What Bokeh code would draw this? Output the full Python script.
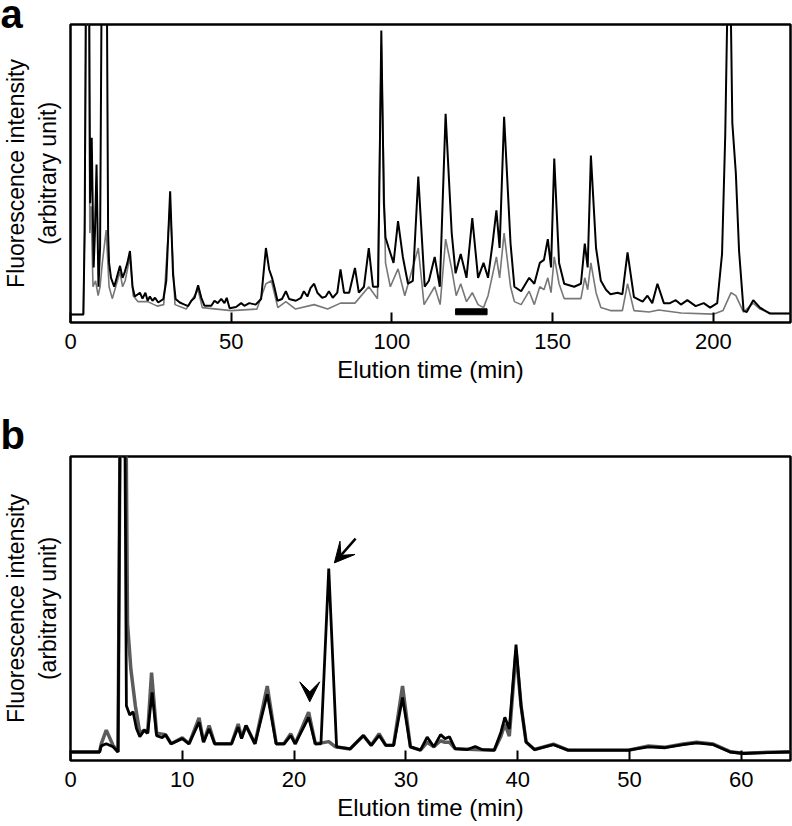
from bokeh.plotting import figure
from bokeh.models import Range1d, FixedTicker, Arrow, VeeHead, Title
from bokeh.layouts import column
from bokeh.embed import file_html
from bokeh.resources import INLINE

FONT = "Liberation Sans"

# ---------------- Panel a data ----------------
a_ticks = [0, 50, 100, 150, 200]
a_black_t = [0, 4.0, 4.4, 4.8, 5.8, 6.1, 6.6, 7.2, 7.6, 8.1,
             8.7, 9.2, 9.7, 10.1, 11.3, 11.7, 12.0, 12.6, 13.6, 15.4,
             16.2, 16.9, 17.7, 18.5, 19.3, 20.0, 21.6, 22.4, 23.3, 24.0,
             24.7, 25.5, 26.3, 27.3, 28.9, 29.8, 31.0, 31.9, 32.7, 34.0,
             35.5, 36.6, 37.6, 38.6, 39.7, 40.7, 41.7, 43.8, 44.8, 45.8,
             46.9, 47.9, 48.6, 49.5, 51.5, 53.1, 54.1, 55.6, 57.6, 59.3,
             60.8, 61.8, 62.7, 63.4, 64.4, 65.8, 67.0, 68.0, 70.1, 71.7,
             72.6, 73.7, 74.7, 75.8, 76.8, 78.3, 79.4, 80.4, 81.6, 83.0,
             84.0, 85.1, 86.7, 88.5, 89.7, 91.3, 92.8, 94.1, 95.7, 96.7,
             97.5, 98.0, 99.0, 100.5, 101.9, 103.4, 105.0, 106.5, 108.2, 110.2,
             111.5, 113.3, 114.9, 116.7, 118.6, 119.8, 121.4, 123.2, 125.0, 126.8,
             128.5, 129.9, 131.3, 132.5, 133.5, 134.9, 136.9, 138.1, 140.2, 142.7,
             144.3, 146.0, 147.3, 148.5, 149.5, 150.5, 152.0, 153.6, 156.7, 158.8,
             160.0, 160.9, 161.9, 163.5, 165.0, 166.6, 168.0, 170.2, 171.7, 173.3,
             175.3, 178.0, 179.5, 181.0, 182.6, 184.6, 186.5, 188.3, 189.9, 191.9,
             194.5, 197.0, 199.0, 201.2, 202.7, 203.7, 204.5, 205.3, 205.9, 207.0,
             208.0, 209.4, 210.4, 212.4, 214.5, 217.6, 224.0]
a_black_v = [2.7, 2.7, 30, 115, 115, 40, 62, 18.5, 30, 53,
             12, 25, 115, 115, 115, 30, 20, 15, 12, 19,
             15, 17, 20, 24, 12, 8.7, 10, 8, 10, 7.3,
             8.7, 7.3, 8.3, 6.7, 7.9, 14, 44, 16, 7.9, 6.7,
             6, 5.5, 7.3, 8.3, 12.5, 8.3, 5.6, 5.6, 7.3, 6.5,
             7.9, 6.5, 8.3, 4.8, 5.2, 6.5, 5.6, 6.5, 6, 7.9,
             25, 17.8, 15, 12, 7.3, 7.9, 10.5, 7.9, 7.3, 8.3,
             10.5, 8.7, 11.6, 13, 10, 8.3, 8.7, 10.5, 8.3, 10,
             17.8, 10, 10, 18.3, 10, 12, 25, 12, 12, 98,
             40, 28.5, 25, 20, 34, 22, 13, 14, 49, 12,
             14, 22, 12, 70, 30, 16.5, 23, 15, 35, 15,
             20, 15, 26.5, 37.6, 25, 69, 26.5, 12, 10.5, 15,
             13, 20, 21, 28, 18.5, 55, 20, 13, 12, 13,
             26.5, 18.5, 56, 25, 14, 11, 9.5, 10, 9.5, 23.5,
             8.5, 7, 9, 6.5, 13, 6.5, 6.5, 7.5, 6, 7.5,
             5.5, 6.5, 5, 6.5, 23, 63, 115, 115, 67, 50,
             24, 4, 3.5, 7.5, 5, 3, 3]
a_gray_t = [0, 4.0, 4.5, 4.9, 5.7, 6.0, 6.4, 7.0, 7.8, 8.6,
            9.2, 9.9, 11.1, 12.0, 13.0, 15.4, 16.2, 17.0, 18.5, 19.5,
            21.0, 24.0, 27.0, 29.0, 31.0, 32.5, 36.0, 39.7, 41.0, 50.0,
            58.0, 60.8, 62.5, 64.5, 67.0, 70.0, 75.8, 80.0, 84.0, 88.5,
            92.8, 95.5, 96.7, 98.0, 99.5, 101.9, 104.0, 108.2, 110.0, 113.3,
            115.0, 116.7, 118.6, 120.0, 121.4, 123.2, 125.0, 126.8, 128.5, 129.9,
            131.3, 132.5, 133.5, 134.9, 136.9, 138.1, 140.2, 142.7, 144.3, 146.0,
            147.3, 148.5, 149.5, 150.5, 152.0, 153.6, 156.7, 158.8, 160.0, 160.9,
            161.9, 163.5, 165.0, 168.0, 171.7, 173.3, 175.3, 180.0, 183.0, 190.0,
            200.0, 203.0, 205.5, 207.0, 209.4, 212.4, 214.5, 218.0, 224.0]
a_gray_v = [2.7, 2.7, 40, 115, 115, 30, 39, 12, 14, 9,
            12, 20, 31, 12, 8, 17, 12, 14, 22, 9,
            7, 7, 5.5, 6, 40, 6, 4.5, 11, 5, 4,
            4.5, 13, 14, 5, 7, 4.5, 6, 4.5, 6.5, 6.5,
            12, 8, 93, 20, 12, 18, 9, 25, 6, 12,
            6, 28, 18, 9, 13, 7, 10, 6, 5, 9,
            16, 22, 15, 30, 12, 7, 6, 10.5, 6, 12,
            11, 15, 10, 22, 13, 8, 8, 8, 15, 11,
            20, 10, 5, 4, 4, 13, 4, 3.5, 4.2, 3.2,
            2.8, 4, 10, 9, 3.5, 6.5, 4.5, 3, 3]
# marker bar under the traces (time span, intensity span)
a_bar_t = [119.8, 129.6]
a_bar_v = [2.6, 4.6]

# ---------------- Panel b data ----------------
b_ticks = [0, 10, 20, 30, 40, 50, 60]
b_black_t = [0, 2.6, 2.75, 3.2, 3.8, 4.25, 4.45, 4.85, 5.0, 5.3,
             5.6, 5.9, 6.2, 6.6, 6.9, 7.3, 7.7, 8.2, 8.5, 9.0,
             10.0, 10.6, 11.5, 11.9, 12.4, 12.9, 14.4, 15.0, 15.3, 15.7,
             16.5, 17.6, 18.4, 19.1, 19.7, 20.1, 21.3, 21.9, 22.4, 23.1,
             23.8, 25.0, 26.2, 26.9, 27.6, 28.2, 28.9, 29.7, 30.4, 31.3,
             31.9, 32.5, 33.1, 33.5, 33.9, 34.4, 35.5, 36.2, 36.8, 37.9,
             38.5, 38.85, 39.25, 39.85, 40.3, 40.75, 41.5, 43.2, 44.5, 47.2,
             49.9, 51.7, 53.2, 54.8, 56.0, 57.5, 59.0, 60.2, 62.3, 64.4]
b_black_v = [2.8, 2.8, 4.8, 5.5, 4.5, 2.8, 120, 120, 18, 15,
             16, 10.5, 7.8, 10, 9, 22.4, 8.2, 7.5, 8.5, 5.5,
             7.2, 5.5, 12.6, 6.1, 10.4, 5.5, 5.5, 11, 7.2, 11.5,
             5.5, 21.8, 5.5, 5.5, 8.2, 5.5, 14.2, 5.5, 5.5, 63.1,
             4.5, 3.8, 8.2, 5, 8.2, 5, 5, 20.7, 4.5, 3.4,
             7.7, 4.5, 8.5, 7.2, 7.8, 3.9, 3.6, 4.6, 3.6, 3.4,
             9.3, 14.2, 10.4, 38.1, 18, 6.1, 3.6, 5.2, 3.4, 3.4,
             3.4, 4.5, 4.2, 5.2, 5.8, 5.2, 2.8, 2.3, 2.6, 2.8]
b_gray_t = [0, 2.6, 2.75, 3.2, 3.8, 4.25, 4.45, 4.95, 5.1, 5.4,
            5.8, 6.2, 6.6, 6.9, 7.25, 7.7, 8.5, 9.0, 10.0, 10.6,
            11.5, 11.9, 12.4, 12.9, 14.4, 15.0, 15.3, 15.7, 16.5, 17.6,
            18.4, 19.1, 19.7, 20.1, 21.3, 21.9, 22.5, 23.1, 23.7, 25.0,
            26.2, 26.9, 27.6, 28.2, 28.9, 29.7, 30.4, 31.3, 31.9, 32.5,
            33.1, 33.5, 33.9, 34.4, 37.9, 38.5, 38.85, 39.25, 39.85, 40.3,
            40.75, 41.5, 43.2, 44.5, 49.9, 51.7, 53.2, 54.8, 56.0, 57.5,
            59.0, 60.2, 62.3, 64.4]
b_gray_v = [2.8, 2.8, 5.5, 10, 5, 2.8, 120, 120, 45, 30,
            18, 9, 10, 9, 28.9, 9, 8.5, 5.5, 7.5, 5.5,
            14, 6, 11.5, 5.5, 5.5, 12, 7.5, 11.5, 5.5, 24.5,
            5.5, 5.5, 8.8, 5.5, 15.9, 5.5, 5.8, 6.2, 4.5, 3.8,
            8.2, 5, 8.8, 5, 5, 24.5, 4.5, 3.4, 6, 4.5,
            6.5, 6, 6, 3.9, 3.4, 8, 12, 8, 36, 18,
            6.1, 3.6, 5.4, 3.4, 3.4, 4.8, 4.4, 5.4, 6, 5.4,
            2.9, 2.4, 2.7, 2.9]
# arrow pointing at the 23 min peak, arrowhead above the 21 min peak
b_arrow_t = [25.5, 23.6]
b_arrow_v = [73, 65]
b_head_t = [21.4, 21.4]
b_head_v = [27, 19.3]


def style(p, ticks):
    p.outline_line_color = "black"
    p.outline_line_width = 2.5
    p.xgrid.visible = False
    p.ygrid.visible = False
    p.background_fill_color = "white"
    p.border_fill_color = "white"
    xa = p.xaxis[0]
    xa.ticker = FixedTicker(ticks=ticks)
    xa.major_tick_in = 10
    xa.major_tick_out = 0
    xa.major_tick_line_width = 2
    xa.major_tick_line_color = "black"
    xa.minor_tick_line_color = None
    xa.axis_line_color = None
    xa.major_label_text_font = FONT
    xa.major_label_text_font_size = "22px"
    xa.major_label_text_color = "black"
    xa.major_label_standoff = 11
    xa.axis_label = "Elution time (min)"
    xa.axis_label_text_font = FONT
    xa.axis_label_text_font_size = "24px"
    xa.axis_label_text_font_style = "normal"
    xa.axis_label_text_color = "black"
    xa.axis_label_standoff = 4
    ya = p.yaxis[0]
    ya.ticker = FixedTicker(ticks=[])
    ya.axis_line_color = None
    ya.major_tick_line_color = None
    ya.minor_tick_line_color = None
    ya.axis_label = "Fluorescence intensity\n(arbitrary unit)"
    ya.axis_label_text_font = FONT
    ya.axis_label_text_font_size = "23px"
    ya.axis_label_text_font_style = "normal"
    ya.axis_label_text_color = "black"
    ya.axis_label_standoff = 10


def panel_letter(p, letter, standoff):
    p.add_layout(Title(text=letter, align="left", offset=-70, standoff=standoff,
                       text_font=FONT, text_font_size="40px", text_font_style="bold",
                       text_color="black"), "above")


# ---------------- Panel a ----------------
pa = figure(width=792, height=410, output_backend="svg", toolbar_location=None,
            x_range=Range1d(0, 224), y_range=Range1d(0, 100),
            min_border_left=66, min_border_right=2, min_border_top=24, min_border_bottom=88)
style(pa, a_ticks)
panel_letter(pa, "a", -22)
pa.line(a_gray_t, a_gray_v, line_color="#777777", line_width=1.6)
pa.line(a_black_t, a_black_v, line_color="black", line_width=2)
pa.quad(left=[a_bar_t[0]], right=[a_bar_t[1]], bottom=[a_bar_v[0]], top=[a_bar_v[1]],
        fill_color="black", line_color="black")

# ---------------- Panel b ----------------
pb = figure(width=792, height=416, output_backend="svg", toolbar_location=None,
            x_range=Range1d(0, 64.4), y_range=Range1d(0, 100),
            min_border_left=66, min_border_right=2, min_border_top=32, min_border_bottom=66)
style(pb, b_ticks)
panel_letter(pb, "b", 0)
pb.line(b_gray_t, b_gray_v, line_color="#5c5c5c", line_width=3.5)
pb.line(b_black_t, b_black_v, line_color="black", line_width=2.8)
pb.add_layout(Arrow(end=VeeHead(size=20, fill_color="black", line_color="black"),
                    x_start=b_arrow_t[0], y_start=b_arrow_v[0],
                    x_end=b_arrow_t[1], y_end=b_arrow_v[1],
                    line_color="black", line_width=2.5))
pb.add_layout(Arrow(end=VeeHead(size=20, fill_color="black", line_color="black"),
                    x_start=b_head_t[0], y_start=b_head_v[0],
                    x_end=b_head_t[1], y_end=b_head_v[1],
                    line_alpha=0, line_width=1))

layout = column(pa, pb, spacing=0)
open("out.html", "w").write(file_html(layout, INLINE))
